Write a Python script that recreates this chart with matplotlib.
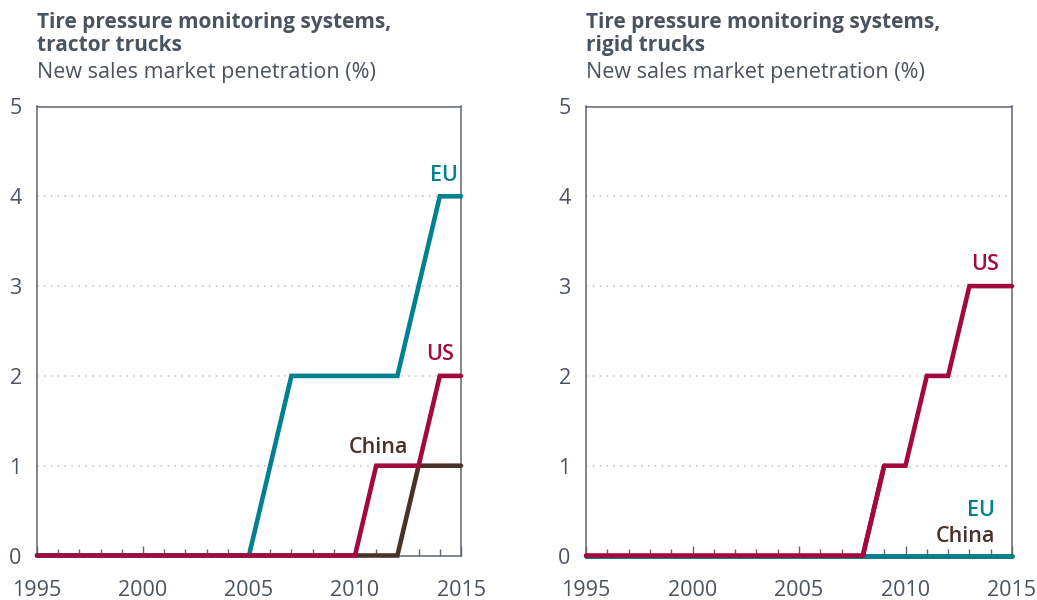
import matplotlib
matplotlib.use("Agg")
import matplotlib.pyplot as plt
from matplotlib.ticker import MultipleLocator

years = list(range(1995, 2016))

# Tractor trucks (left panel)
tractor_eu    = [0]*11 + [1, 2, 2, 2, 2, 2, 2, 3, 4, 4]
tractor_us    = [0]*16 + [1, 1, 1, 2, 2]
tractor_china = [0]*18 + [1, 1, 1]

# Rigid trucks (right panel)
rigid_us    = [0]*14 + [1, 1, 2, 2, 3, 3, 3]
rigid_eu    = [0]*21
rigid_china = [0]*21

titles = ["Tire pressure monitoring systems,\ntractor trucks",
          "Tire pressure monitoring systems,\nrigid trucks"]
subtitle = "New sales market penetration (%)"
xticks = [1995, 2000, 2005, 2010, 2015]
yticks = [0, 1, 2, 3, 4, 5]

C_EU = "#00818f"
C_US = "#a4093e"
C_CN = "#4b3127"
C_TXT = "#4a5360"
C_AX = "#5f6770"

plt.rcParams['font.family'] = ['Open Sans', 'DejaVu Sans']

fig = plt.figure(figsize=(10.37, 6.0), dpi=100)
W, H = 1037, 600
ax1 = fig.add_axes([37/W, (600-555.5)/H, 424/W, 449/H])
ax2 = fig.add_axes([586/W, (600-555.5)/H, 426/W, 449/H])

def style(ax):
    ax.set_xlim(1995, 2015)
    ax.set_ylim(0, 5)
    ax.set_xticks(xticks)
    ax.set_yticks(yticks)
    ax.xaxis.set_minor_locator(MultipleLocator(1))
    ax.tick_params(axis='x', which='major', direction='in', length=7, width=1, color=C_AX,
                   labelsize=15.5, labelcolor=C_TXT, pad=18)
    ax.tick_params(axis='x', which='minor', direction='in', length=5, width=1, color=C_AX)
    ax.tick_params(axis='y', length=0, labelsize=15.5, labelcolor=C_TXT, pad=11)
    for sp in ax.spines.values():
        sp.set_color(C_AX)
        sp.set_linewidth(1.1)
    for y in [1, 2, 3, 4]:
        ax.axhline(y, color="#bcc0c4", lw=1.1, ls=(0, (1, 3.5)), zorder=0.5)

lw = 3.3
LBL = 15.5
style(ax1)
ax1.plot(years, tractor_china, color=C_CN, lw=lw, clip_on=False, zorder=3, solid_capstyle='round', solid_joinstyle='miter')
ax1.plot(years, tractor_eu, color=C_EU, lw=lw, clip_on=False, zorder=4, solid_capstyle='round', solid_joinstyle='miter')
ax1.plot(years, tractor_us, color=C_US, lw=lw, clip_on=False, zorder=5, solid_capstyle='round', solid_joinstyle='miter')
ax1.text(2014.2, 4.12, "EU", color=C_EU, fontsize=LBL, fontweight='semibold', ha='center', va='bottom')
ax1.text(2014.0, 2.12, "US", color=C_US, fontsize=LBL, fontweight='semibold', ha='center', va='bottom')
ax1.text(2011.1, 1.09, "China", color=C_CN, fontsize=LBL, fontweight='semibold', ha='center', va='bottom')

style(ax2)
ax2.plot(years, rigid_china, color=C_CN, lw=lw, clip_on=False, zorder=3, solid_capstyle='round')
ax2.plot(years, rigid_eu, color=C_EU, lw=lw, clip_on=False, zorder=4, solid_capstyle='round')
ax2.plot(years[:15], rigid_us[:15], color=C_US, lw=lw, clip_on=False, zorder=5, solid_capstyle='round', solid_joinstyle='miter')
ax2.plot(years[14:], rigid_us[14:], color=C_US, lw=lw, clip_on=False, zorder=5, solid_capstyle='round', solid_joinstyle='miter')
ax2.plot(years[13:15], rigid_us[13:15], color=C_US, lw=lw, clip_on=False, zorder=5, solid_capstyle='butt')
ax2.text(2013.75, 3.12, "US", color=C_US, fontsize=LBL, fontweight='semibold', ha='center', va='bottom')
ax2.text(2014.2, 0.38, "EU", color=C_EU, fontsize=LBL, fontweight='semibold', ha='right', va='bottom')
ax2.text(2014.2, 0.1, "China", color=C_CN, fontsize=LBL, fontweight='semibold', ha='right', va='bottom')

for ax, t in zip([ax1, ax2], titles):
    x0 = ax.get_position().x0
    fig.text(x0, 1 - 12/H, t, color=C_TXT, fontsize=15, fontweight='bold', ha='left', va='top', linespacing=1.15)
    fig.text(x0, 1 - 62/H, subtitle, color=C_TXT, fontsize=15.5, ha='left', va='top')

fig.savefig("out.png", dpi=100)
